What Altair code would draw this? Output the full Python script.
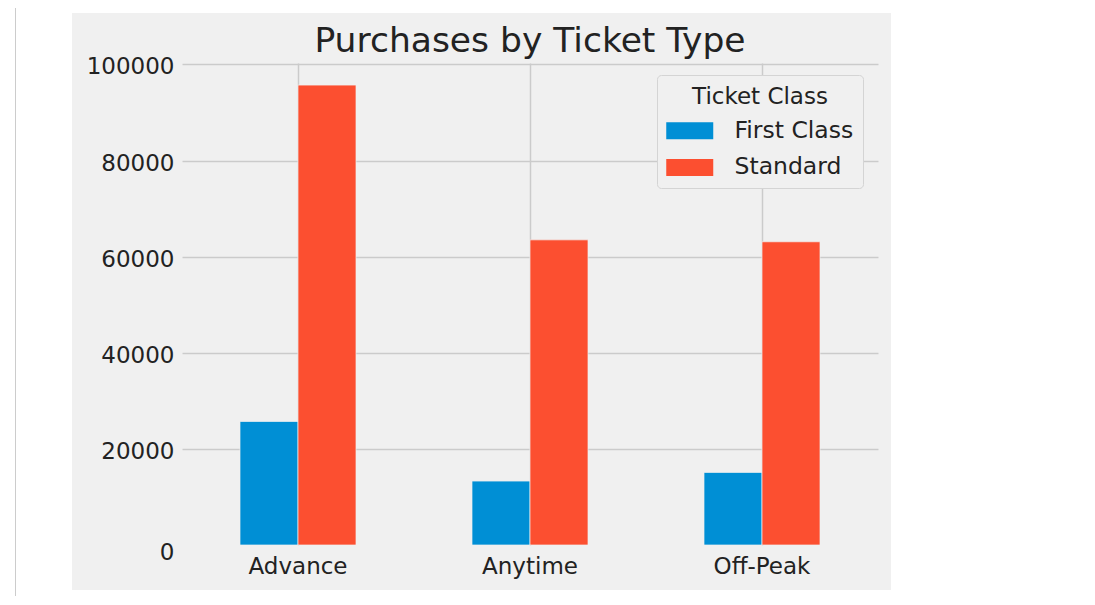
import altair as alt
import pandas as pd

# ---- data ----
ticket_types = ["Advance", "Anytime", "Off-Peak"]
ticket_classes = ["First Class", "Standard"]
first_class_counts = [25700, 13300, 15100]
standard_counts = [95700, 63500, 63100]
y_ticks = [0, 20000, 40000, 60000, 80000, 100000]

records = []
for t, fc, st in zip(ticket_types, first_class_counts, standard_counts):
    records.append({"Ticket Type": t, "Ticket Class": "First Class", "Purchases": fc})
    records.append({"Ticket Type": t, "Ticket Class": "Standard", "Purchases": st})
df = pd.DataFrame(records)

FONT = "DejaVu Sans"
TEXT = "#222222"
GRID = "#cbcbcb"
FIG_BG = "#f0f0f0"
PAGE_BG = "#ffffff"
COLORS = ["#008fd5", "#fc4f30"]

PLOT_W, PLOT_H = 696, 482

one = alt.Data(values=[{"k": 0}])


def blank(x1, x2, y1, y2):
    return alt.Chart(one).mark_rect(color=PAGE_BG).encode(
        x=alt.value(x1), x2=alt.value(x2), y=alt.value(y1), y2=alt.value(y2)
    )


# white page around the grey figure area
mask = [
    blank(-174, -110, -55, 537),
    blank(-174, 896, -55, -50),
    blank(709, 896, -55, 537),
    blank(-174, 896, 527, 537),
]

frame = alt.Chart(one).mark_rule(color="#cccccc", strokeWidth=1).encode(
    x=alt.value(-166.5), y=alt.value(-55), y2=alt.value(533)
)

bars = alt.Chart(df).mark_bar(stroke=FIG_BG, strokeWidth=0.7).encode(
    x=alt.X(
        "Ticket Type:N",
        sort=ticket_types,
        scale=alt.Scale(paddingInner=0.5, paddingOuter=0.25),
        axis=alt.Axis(
            title=None, labelAngle=0, labelFont=FONT, labelFontSize=23, labelColor=TEXT,
            labelBaseline="alphabetic", labelPadding=28, ticks=False, tickSize=0,
            domain=False, grid=True, gridColor=GRID, gridWidth=1.5, bandPosition=0.5,
        ),
    ),
    xOffset=alt.XOffset(
        "Ticket Class:N", sort=ticket_classes,
        scale=alt.Scale(paddingInner=0, paddingOuter=0),
    ),
    y=alt.Y(
        "Purchases:Q",
        scale=alt.Scale(domain=[0, 100300], nice=False, zero=True),
        axis=alt.Axis(
            title=None, values=y_ticks, format="d", labelFont=FONT, labelFontSize=23,
            labelColor=TEXT, labelPadding=8, labelBaseline="alphabetic",
            labelOffset={"condition": {"test": "datum.value === 0", "value": 14}, "value": 9.5},
            ticks=False, tickSize=0, domain=False, grid=True, gridColor=GRID, gridWidth=1.5,
            gridOpacity={"condition": {"test": "datum.value === 0", "value": 0}, "value": 1},
        ),
    ),
    color=alt.Color(
        "Ticket Class:N",
        sort=ticket_classes,
        scale=alt.Scale(domain=ticket_classes, range=COLORS),
        legend=alt.Legend(
            title="Ticket Class", orient="none", legendX=475, legendY=12, direction="vertical",
            titleFont=FONT, titleFontSize=23, titleFontWeight="normal", titleColor=TEXT,
            titleAnchor="middle", titleBaseline="line-top", titleLineHeight=27, titlePadding=12,
            labelFont=FONT, labelFontSize=23.5, labelColor=TEXT, labelOffset=33,
            symbolType="M-2.765,-1H2.765V1H-2.765Z", symbolSize=289, symbolStrokeWidth=0,
            symbolOffset=12, rowPadding=11.7, padding=9,
            fillColor=FIG_BG, strokeColor="#d4d4d4", cornerRadius=4,
        ),
    ),
)

chart = alt.layer(*mask, frame, bars).properties(
    width=PLOT_W,
    height=PLOT_H,
    title=alt.TitleParams(
        "Purchases by Ticket Type", font=FONT, fontSize=34.5, fontWeight="normal",
        color=TEXT, anchor="middle", baseline="alphabetic", offset=0, dy=79.4,
    ),
    padding={"left": 174, "top": 55, "right": 200, "bottom": 55},
    autosize=alt.AutoSizeParams(type="none"),
    background=FIG_BG,
).configure_view(stroke=None)

chart.save("out.html", embed_options={"renderer": "svg", "actions": False})
